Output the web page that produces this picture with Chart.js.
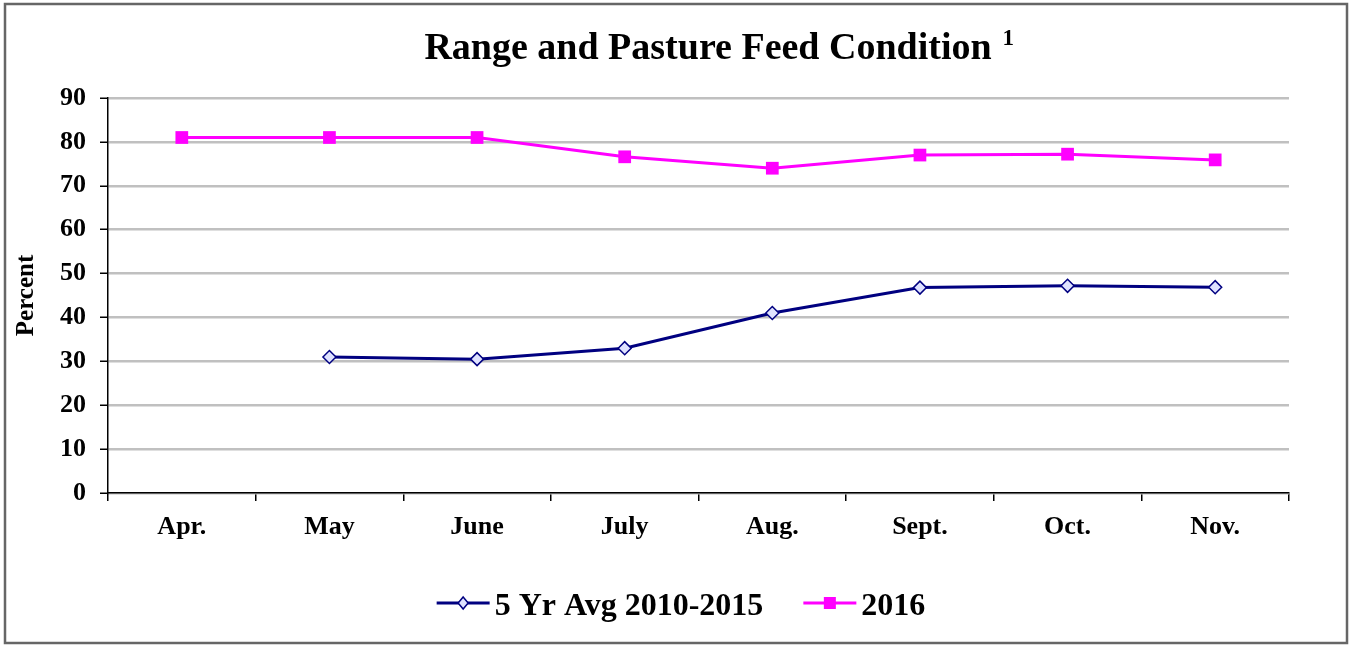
<!DOCTYPE html>
<html>
<head>
<meta charset="utf-8">
<script src="https://cdn.jsdelivr.net/npm/chart.js@4"></script>
<style>
  html, body { margin: 0; padding: 0; background: #ffffff; }
  #wrap { width: 1350px; height: 646px; position: relative; }
</style>
</head>
<body>
<div id="wrap"><canvas id="c" width="1350" height="646"></canvas></div>
<script>
// ---- data ----
const categories = ['Apr.', 'May', 'June', 'July', 'Aug.', 'Sept.', 'Oct.', 'Nov.'];
const avgLabel = '5 Yr Avg 2010-2015';
const avgValues = [null, 31.0, 30.5, 33.0, 41.0, 46.8, 47.2, 46.9];
const y2016Label = '2016';
const y2016Values = [81.0, 81.0, 81.0, 76.6, 74.0, 77.0, 77.2, 75.9];
const yTicks = [0, 10, 20, 30, 40, 50, 60, 70, 80, 90];
const titleText = 'Range and Pasture Feed Condition';
const titleNote = '1';
const yAxisTitle = 'Percent';

const SERIF = '"Liberation Serif", "Times New Roman", serif';
const NAVY = '#000080';
const MAGENTA = '#ff00ff';

// frame + title + legend drawn by plugin
const decorPlugin = {
  id: 'decor',
  beforeDraw(chart) {
    const ctx = chart.ctx;
    ctx.save();
    ctx.fillStyle = '#ffffff';
    ctx.fillRect(0, 0, chart.width, chart.height);
    ctx.restore();
  },
  afterDraw(chart) {
    const ctx = chart.ctx;
    ctx.save();
    // outer frame
    ctx.strokeStyle = '#666666';
    ctx.lineWidth = 2.5;
    ctx.strokeRect(5, 4, chart.width - 8, chart.height - 7);

    // title
    ctx.fillStyle = '#000000';
    ctx.textBaseline = 'alphabetic';
    ctx.font = 'bold 38px ' + SERIF;
    const tw = ctx.measureText(titleText).width;
    const tcx = 708;
    ctx.textAlign = 'left';
    ctx.fillText(titleText, tcx - tw / 2, 59);
    ctx.font = 'bold 23px ' + SERIF;
    ctx.fillText(titleNote, tcx + tw / 2 + 11, 45);

    // legend
    const items = chart.data.datasets.map((ds, i) => ({ ds, i }));
    ctx.font = 'bold 32px ' + SERIF;
    const lineLen = 53, gapText = 5, gapItem = 40;
    let total = 0;
    items.forEach((it, k) => {
      it.tw = ctx.measureText(it.ds.label).width;
      total += lineLen + gapText + it.tw + (k < items.length - 1 ? gapItem : 0);
    });
    let x = 681 - total / 2;
    const ly = 603;
    items.forEach(it => {
      const ds = it.ds;
      ctx.strokeStyle = ds.borderColor;
      ctx.lineWidth = 3;
      ctx.beginPath();
      ctx.moveTo(x, ly);
      ctx.lineTo(x + lineLen, ly);
      ctx.stroke();
      const cx = x + lineLen / 2;
      if (ds.pointStyle === 'rect') {
        ctx.fillStyle = ds.pointBackgroundColor;
        ctx.fillRect(cx - 6, ly - 6, 12, 12);
      } else {
        ctx.fillStyle = ds.pointBackgroundColor;
        ctx.strokeStyle = ds.pointBorderColor;
        ctx.lineWidth = 1.5;
        ctx.beginPath();
        ctx.moveTo(cx, ly - 6);
        ctx.lineTo(cx + 5, ly);
        ctx.lineTo(cx, ly + 6);
        ctx.lineTo(cx - 5, ly);
        ctx.closePath();
        ctx.fill();
        ctx.stroke();
      }
      ctx.fillStyle = '#000000';
      ctx.font = 'bold 32px ' + SERIF;
      ctx.textAlign = 'left';
      ctx.textBaseline = 'alphabetic';
      ctx.fillText(ds.label, x + lineLen + gapText, 615);
      x += lineLen + gapText + it.tw + gapItem;
    });
    ctx.restore();
  }
};

new Chart(document.getElementById('c'), {
  type: 'line',
  data: {
    labels: categories,
    datasets: [
      {
        label: avgLabel,
        data: avgValues,
        borderColor: NAVY,
        borderWidth: 3,
        pointStyle: 'rectRot',
        pointRadius: 6.5,
        pointBackgroundColor: '#dfe2ff',
        pointBorderColor: NAVY,
        pointBorderWidth: 1.5,
        tension: 0,
        spanGaps: false
      },
      {
        label: y2016Label,
        data: y2016Values,
        borderColor: MAGENTA,
        borderWidth: 3,
        pointStyle: 'rect',
        pointRadius: 9,
        pointBackgroundColor: MAGENTA,
        pointBorderColor: MAGENTA,
        pointBorderWidth: 0,
        tension: 0
      }
    ]
  },
  options: {
    responsive: false,
    animation: false,
    devicePixelRatio: 1,
    layout: { padding: { left: 8, right: 61, top: 98, bottom: 93 } },
    plugins: {
      legend: { display: false },
      title: { display: false },
      tooltip: { enabled: false }
    },
    scales: {
      x: {
        type: 'category',
        offset: true,
        afterFit(scale) { scale.height = 60; },
        grid: {
          display: true,
          offset: true,
          drawOnChartArea: false,
          drawTicks: true,
          tickLength: 8,
          tickColor: '#000000',
          lineWidth: 1.5
        },
        border: { display: true, color: '#000000', width: 1.5 },
        ticks: {
          color: '#000000',
          padding: 11,
          maxRotation: 0,
          autoSkip: false,
          font: { family: SERIF, size: 26, weight: 'bold' }
        }
      },
      y: {
        min: 0,
        max: 90,
        afterFit(scale) { scale.width = 100; },
        afterBuildTicks(scale) { scale.ticks = yTicks.map(v => ({ value: v })); },
        grid: {
          color: '#c0c0c0',
          lineWidth: 2.5,
          drawTicks: true,
          tickLength: 8,
          tickColor: '#000000',
          tickWidth: 1.5
        },
        border: { display: true, color: '#000000', width: 1.5 },
        ticks: {
          color: '#000000',
          padding: 14,
          font: { family: SERIF, size: 26, weight: 'bold' }
        },
        title: {
          display: true,
          text: yAxisTitle,
          color: '#000000',
          padding: { top: 4, bottom: 0 },
          font: { family: SERIF, size: 25, weight: 'bold' }
        }
      }
    }
  },
  plugins: [decorPlugin]
});
</script>
</body>
</html>
